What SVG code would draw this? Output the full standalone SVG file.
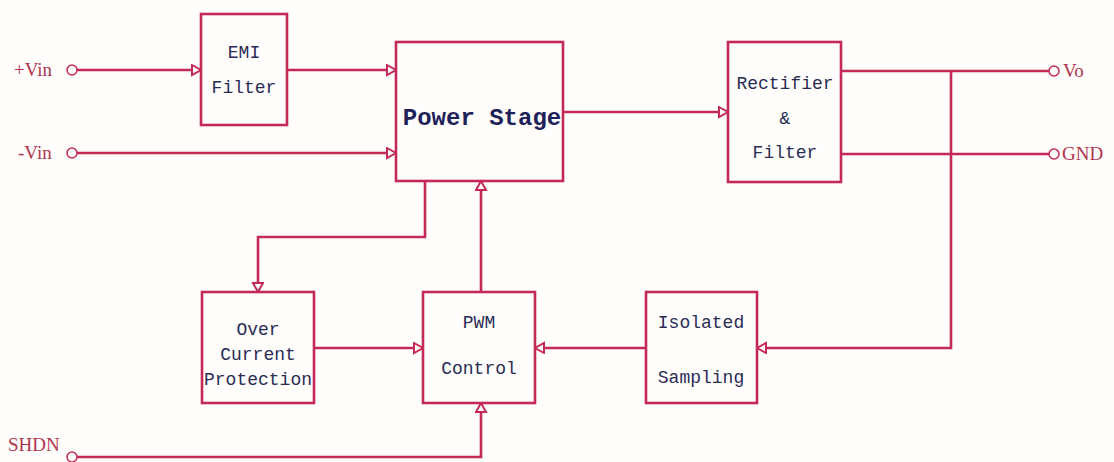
<svg xmlns="http://www.w3.org/2000/svg" width="1114" height="462" viewBox="0 0 1114 462">
<style>
.box{fill:#fffefc;stroke:#c42a55;stroke-width:2.6}
.ln{fill:none;stroke:#c42a55;stroke-width:2.6;marker-end:url(#arr)}
.ln2{fill:none;stroke:#c42a55;stroke-width:2.6}
.term{fill:#fffefc;stroke:#c42a55;stroke-width:1.5}
.t{font-family:"Liberation Mono",monospace;font-size:18px;fill:#2a2c55;text-anchor:middle}
.tb{font-family:"Liberation Mono",monospace;font-size:24px;font-weight:bold;fill:#1e2058;text-anchor:middle}
.lbl{font-family:"Liberation Serif",serif;font-size:19px;fill:#b0344f}
</style>
<defs>
<marker id="arr" markerUnits="userSpaceOnUse" markerWidth="14" markerHeight="14" refX="10" refY="6" orient="auto">
<path d="M1,1 L10,6 L1,11 Z" fill="#fffefc" stroke="#c42a55" stroke-width="2"/>
</marker>
</defs>
<rect width="1114" height="462" fill="#fffefc"/>
<g id="connectors">
<path class="ln" d="M77,70 H201"/>
<path class="ln" d="M287,70 H396"/>
<path class="ln" d="M77,153 H396"/>
<path class="ln" d="M563,112 H728"/>
<path class="ln2" d="M841,71 H1049"/>
<path class="ln2" d="M841,154 H1049"/>
<path class="ln" d="M951,71 V348 H757"/>
<path class="ln" d="M646,348 H535"/>
<path class="ln" d="M314,348 H423"/>
<path class="ln" d="M425,181 V237 H258 V292"/>
<path class="ln" d="M481,292 V181"/>
<path class="ln" d="M77,457 H481 V403"/>
</g>
<g id="vin-plus"><circle class="term" cx="72" cy="70" r="5"/><text class="lbl" x="14" y="76">+Vin</text></g>
<g id="vin-minus"><circle class="term" cx="72" cy="153" r="5"/><text class="lbl" x="18" y="159">-Vin</text></g>
<g id="vo"><circle class="term" cx="1054" cy="71" r="5"/><text class="lbl" x="1063" y="77">Vo</text></g>
<g id="gnd"><circle class="term" cx="1054" cy="154" r="5"/><text class="lbl" x="1062" y="160">GND</text></g>
<g id="shdn"><circle class="term" cx="72" cy="457" r="5"/><text class="lbl" x="8" y="451">SHDN</text></g>
<g id="emi"><rect class="box" x="201" y="14" width="86" height="111"/><text class="t" x="244" y="58">EMI</text><text class="t" x="244" y="93">Filter</text></g>
<g id="power"><rect class="box" x="396" y="42" width="167" height="139"/><text class="tb" x="482" y="125">Power Stage</text></g>
<g id="rect"><rect class="box" x="728" y="42" width="113" height="140"/><text class="t" x="785" y="89">Rectifier</text><text class="t" x="785" y="124">&amp;</text><text class="t" x="785" y="158">Filter</text></g>
<g id="ocp"><rect class="box" x="202" y="292" width="112" height="111"/><text class="t" x="258" y="335">Over</text><text class="t" x="258" y="360">Current</text><text class="t" x="258" y="385">Protection</text></g>
<g id="pwm"><rect class="box" x="423" y="292" width="112" height="111"/><text class="t" x="479" y="328">PWM</text><text class="t" x="479" y="374">Control</text></g>
<g id="iso"><rect class="box" x="646" y="292" width="111" height="111"/><text class="t" x="701" y="328">Isolated</text><text class="t" x="701" y="383">Sampling</text></g>
</svg>
